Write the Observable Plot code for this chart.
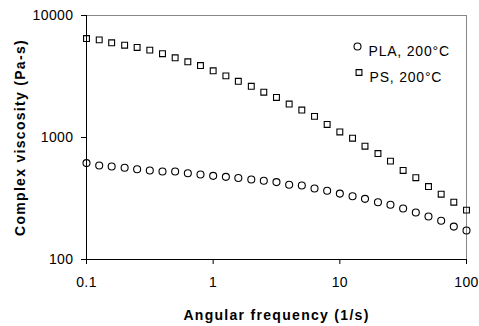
<!DOCTYPE html>
<html>
<head>
<meta charset="utf-8">
<script src="https://cdn.jsdelivr.net/npm/d3@7"></script>
<script src="https://cdn.jsdelivr.net/npm/@observablehq/plot@0.6"></script>
<style>
  html, body { margin: 0; padding: 0; background: #fff; }
  svg { display: block; }
</style>
</head>
<body>
<div id="chart"></div>
<script>
// Angular frequency (1/s), 10 points per decade
const freq = [0.1, 0.126, 0.158, 0.2, 0.251, 0.316, 0.398, 0.501, 0.631, 0.794,
  1, 1.26, 1.58, 2, 2.51, 3.16, 3.98, 5.01, 6.31, 7.94,
  10, 12.6, 15.8, 20, 25.1, 31.6, 39.8, 50.1, 63.1, 79.4, 100];
const plaViscosity = [617, 590, 578, 565, 550, 537, 527, 527, 510, 498,
  485, 476, 465, 453, 442, 431, 410, 404, 382, 366,
  347, 330, 314, 295, 281, 262, 243, 225, 208, 186, 173];
const psViscosity = [6470, 6310, 5970, 5710, 5470, 5200, 4860, 4500, 4170, 3890,
  3520, 3200, 2890, 2630, 2350, 2130, 1880, 1680, 1490, 1280,
  1110, 987, 849, 738, 640, 537, 468, 396, 343, 295, 254];
const seriesNames = ["PLA, 200°C", "PS, 200°C"];
const xTicks = [0.1, 1, 10, 100];
const yTicks = [100, 1000, 10000];

const pla = freq.map((f, i) => ({f, v: plaViscosity[i]}));
const ps = freq.map((f, i) => ({f, v: psViscosity[i]}));

const font = "Arial, 'Liberation Sans', sans-serif";

const chart = Plot.plot({
  width: 479,
  height: 326,
  marginLeft: 86,
  marginRight: 13,
  marginTop: 15,
  marginBottom: 67,
  style: {fontFamily: font, fontSize: "14px", background: "#fff", color: "#000", overflow: "visible"},
  x: {type: "log", domain: [0.1, 100]},
  y: {type: "log", domain: [100, 10000]},
  marks: [
    Plot.frame({stroke: "#888", strokeWidth: 1}),
    Plot.axisX({ticks: xTicks, tickFormat: d => String(d), tickSize: 5, tickPadding: 13,
      fontSize: 14, label: "Angular frequency (1/s)", labelAnchor: "center", labelOffset: 60,
      labelArrow: "none"}),
    Plot.axisY({ticks: yTicks, tickFormat: d => String(d), tickSize: 5, tickPadding: 8,
      fontSize: 14, label: "Complex viscosity (Pa-s)", labelAnchor: "center", labelOffset: 71,
      labelArrow: "none"}),
    Plot.ruleX([0.1], {stroke: "#000", strokeWidth: 1}),
    Plot.ruleY([100], {stroke: "#000", strokeWidth: 1}),
    Plot.dot(pla, {x: "f", y: "v", symbol: "circle", r: 3.5, stroke: "#000", strokeWidth: 1.1, fill: "none"}),
    Plot.dot(ps, {x: "f", y: "v", symbol: "square", r: 3.3, stroke: "#000", strokeWidth: 1.1, fill: "none"}),
    // legend
    Plot.dot([seriesNames[0]], {frameAnchor: "top-right", dx: -109, dy: 31, symbol: "circle", r: 3.5, stroke: "#000", strokeWidth: 1.1, fill: "none"}),
    Plot.text([seriesNames[0]], {text: d => d, frameAnchor: "top-right", dx: -98, dy: 31, textAnchor: "start", fontSize: 14}),
    Plot.dot([seriesNames[1]], {frameAnchor: "top-right", dx: -107.5, dy: 57, symbol: "square", r: 3.3, stroke: "#000", strokeWidth: 1.1, fill: "none"}),
    Plot.text([seriesNames[1]], {text: d => d, frameAnchor: "top-right", dx: -97, dy: 57, textAnchor: "start", fontSize: 14})
  ]
});
chart.querySelectorAll("g[aria-label='x-axis label'], g[aria-label='y-axis label']").forEach(g => {
  g.setAttribute("font-weight", "bold");
  g.setAttribute("font-size", "14");
  g.setAttribute("letter-spacing", "1.3");
});
chart.querySelectorAll("g[aria-label='x-axis tick label'], g[aria-label='y-axis tick label']").forEach(g => {
  g.setAttribute("font-size", "14");
  g.setAttribute("letter-spacing", "0.4");
});
chart.querySelectorAll("g[aria-label='text']").forEach(g => {
  g.setAttribute("letter-spacing", "0.8");
});
document.getElementById("chart").appendChild(chart);
</script>
</body>
</html>
